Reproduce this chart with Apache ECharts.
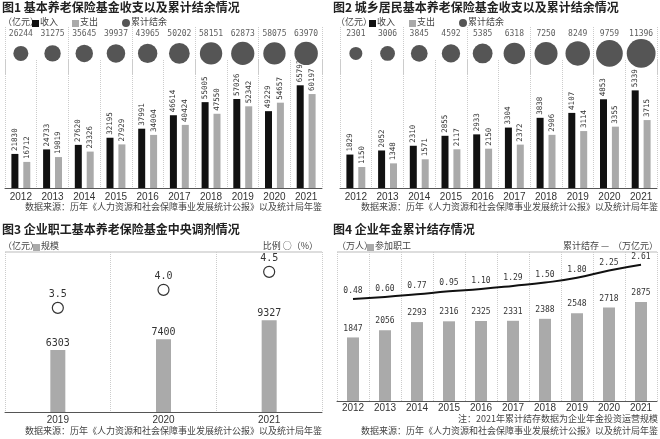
<!DOCTYPE html>
<html><head><meta charset="utf-8">
<script src="https://cdn.jsdelivr.net/npm/echarts@6/dist/echarts.min.js"></script>
<style>html,body{margin:0;padding:0;background:#fff}#c{width:660px;height:439px}</style>
</head><body><div id="c"></div>
<script>
const years = ['2012','2013','2014','2015','2016','2017','2018','2019','2020','2021'];
const f1Income = [21830,24733,27620,32195,37991,46614,55005,57026,49229,65793];
const f1Expense = [16712,19819,23326,27929,34004,40424,47550,52342,54657,60197];
const f1Balance = [26244,31275,35645,39937,43965,50202,58151,62873,58075,63970];
const f2Income = [1829,2052,2310,2855,2933,3304,3838,4107,4853,5339];
const f2Expense = [1150,1348,1571,2117,2150,2372,2906,3114,3355,3715];
const f2Balance = [2301,3006,3845,4592,5385,6318,7250,8249,9759,11396];
const f3Years = ['2019','2020','2021'];
const f3Scale = [6303,7400,9327];
const f3Ratio = [3.5,4.0,4.5];
const f4Workers = [1847,2056,2293,2316,2325,2331,2388,2548,2718,2875];
const f4Assets = [0.48,0.60,0.77,0.95,1.10,1.29,1.50,1.80,2.25,2.61];

const FONT = '"Noto Sans CJK SC", sans-serif';
const chart = echarts.init(document.getElementById('c'));
const splitDash = {show:true, lineStyle:{color:'#ccc', type:'dotted'}};
function catAxis(grid, data, show, split, margin){
  return {type:'category', gridIndex:grid, data:data, show:show,
    axisLine:{show:show, lineStyle:{color:'#555'}}, axisTick:{show:false},
    axisLabel:{show:show, color:'#333', fontSize:10, fontFamily:'Arial', margin:margin||4},
    splitLine: split ? splitDash : {show:false}};
}
function valAxis(grid, min, max){
  return {type:'value', gridIndex:grid, min:min, max:max, show:false, splitLine:{show:false}};
}
const rotLabel = {show:true, rotate:90, position:'top', align:'left', verticalAlign:'middle', distance:3, fontSize:7.5, color:'#333', fontFamily:'DejaVu Sans Mono'};

const grids = [
  {left:5, width:317, top:60, height:128},
  {left:5, width:317, top:27, height:48},
  {left:340, width:317, top:60, height:128},
  {left:340, width:317, top:27, height:48},
  {left:5, width:317, top:252, height:160},
  {left:337, width:320, top:252, height:149}
];
const xAxes = [
  catAxis(0, years, true, true), catAxis(1, years, false, false),
  catAxis(2, years, true, true), catAxis(3, years, false, false),
  catAxis(4, f3Years, true, true, 3), catAxis(5, years, true, true, 2)
];
xAxes[1].show=true; xAxes[1].axisLine={show:false}; xAxes[1].axisLabel={show:false}; xAxes[1].splitLine=splitDash;
xAxes[3].show=true; xAxes[3].axisLine={show:false}; xAxes[3].axisLabel={show:false}; xAxes[3].splitLine=splitDash;
const yAxes = [
  valAxis(0,0,82000), valAxis(1,-1,1), valAxis(2,0,7000), valAxis(3,-1,1),
  valAxis(4,0,16260), valAxis(4,0.61,5.05), valAxis(5,0,4330), valAxis(5,-5.9,3.41)
];
const topLbl = {show:true, position:'inside', formatter:p=>p.value[2], fontSize:8, color:'#333', fontFamily:'DejaVu Sans Mono'};
const series = [
  {type:'bar', xAxisIndex:0, yAxisIndex:0, data:f1Income, barWidth:7, barGap:'70%', itemStyle:{color:'#111'}, label:rotLabel},
  {type:'bar', xAxisIndex:0, yAxisIndex:0, data:f1Expense, barWidth:7, itemStyle:{color:'#aaa'}, label:rotLabel},
  {type:'scatter', xAxisIndex:1, yAxisIndex:1, data:f1Balance.map((v,i)=>[i,-0.1,v]),
    symbolSize:d=>0.0926*Math.sqrt(d[2]), itemStyle:{color:'#555', opacity:1}},
  {type:'scatter', xAxisIndex:1, yAxisIndex:1, data:f1Balance.map((v,i)=>[i,0.7,v]), symbolSize:0, label:topLbl},
  {type:'bar', xAxisIndex:2, yAxisIndex:2, data:f2Income, barWidth:7, barGap:'70%', itemStyle:{color:'#111'}, label:rotLabel},
  {type:'bar', xAxisIndex:2, yAxisIndex:2, data:f2Expense, barWidth:7, itemStyle:{color:'#aaa'}, label:rotLabel},
  {type:'scatter', xAxisIndex:3, yAxisIndex:3, data:f2Balance.map((v,i)=>[i,-0.1,v]),
    symbolSize:d=>0.27*Math.sqrt(d[2]), itemStyle:{color:'#555', opacity:1}},
  {type:'scatter', xAxisIndex:3, yAxisIndex:3, data:f2Balance.map((v,i)=>[i,0.7,v]), symbolSize:0, label:topLbl},
  {type:'bar', xAxisIndex:4, yAxisIndex:4, data:f3Scale, barWidth:15, itemStyle:{color:'#aaa'},
    label:{show:true, position:'top', distance:2, fontSize:10, color:'#333', fontFamily:'DejaVu Sans Mono'}},
  {type:'scatter', xAxisIndex:4, yAxisIndex:5, data:f3Ratio, symbol:'circle', symbolSize:11,
    itemStyle:{color:'#fff', borderColor:'#333', borderWidth:1.2, opacity:1},
    label:{show:true, position:'top', distance:2, formatter:p=>p.value.toFixed(1), fontSize:10, color:'#333', fontFamily:'DejaVu Sans Mono'}},
  {type:'bar', xAxisIndex:5, yAxisIndex:6, data:f4Workers, barWidth:12, itemStyle:{color:'#aaa'},
    label:{show:true, position:'top', distance:5, fontSize:8, color:'#333', fontFamily:'DejaVu Sans Mono'}},
  {type:'line', xAxisIndex:5, yAxisIndex:7, data:f4Assets, smooth:true, symbol:'circle', symbolSize:0.1,
    lineStyle:{color:'#111', width:2}, itemStyle:{color:'#111'},
    label:{show:true, position:'top', distance:4, formatter:p=>p.value.toFixed(2), fontSize:8, color:'#333', fontFamily:'DejaVu Sans Mono'}}
];

function t(x,y,txt){return {type:'text', left:x, top:y, style:{text:txt, fontSize:9, fill:'#444', fontFamily:FONT}};}
function tr(x,y,txt,size){return {type:'text', right:660-x, top:y, style:{text:txt, fontSize:size||9, fill:'#444', fontFamily:FONT}};}
function title(x,y,txt){return {type:'text', left:x, top:y, style:{text:txt, fontSize:12, fontWeight:'bold', fill:'#222', fontFamily:FONT}};}
function sq(x,y,c){return {type:'rect', left:x, top:y, shape:{width:7,height:7}, style:{fill:c}};}
const graphic = [
  title(2,1,'图1 基本养老保险基金收支以及累计结余情况'),
  t(3,17,'（亿元）'), sq(32,20,'#111'), t(40,17,'收入'), sq(72,20,'#aaa'), t(80,17,'支出'),
  {type:'circle', left:122, top:19, shape:{r:4}, style:{fill:'#555'}}, t(131,17,'累计结余'),
  tr(322,202,'数据来源：历年《人力资源和社会保障事业发展统计公报》以及统计局年鉴'),
  title(333,1,'图2 城乡居民基本养老保险基金收支以及累计结余情况'),
  t(336,17,'（亿元）'), sq(369,20,'#111'), t(377,17,'收入'), sq(409,20,'#aaa'), t(417,17,'支出'),
  {type:'circle', left:459, top:19, shape:{r:4}, style:{fill:'#555'}}, t(468,17,'累计结余'),
  tr(658,202,'数据来源：历年《人力资源和社会保障事业发展统计公报》以及统计局年鉴'),
  title(2,223,'图3 企业职工基本养老保险基金中央调剂情况'),
  t(3,241,'（亿元）'), sq(33,244,'#aaa'), t(41,241,'规模'),
  tr(318,241,'比例 ○（%）'),
  {type:'line', shape:{x1:5,y1:252,x2:322,y2:252}, style:{stroke:'#bbb', lineWidth:1}},
  tr(322,426,'数据来源：历年《人力资源和社会保障事业发展统计公报》以及统计局年鉴'),
  title(333,223,'图4 企业年金累计结存情况'),
  t(337,241,'（万人）'), sq(367,244,'#aaa'), t(375,241,'参加职工'),
  tr(658,241,'累计结存 —  （万亿元）'),
  {type:'line', shape:{x1:337,y1:252,x2:657,y2:252}, style:{stroke:'#bbb', lineWidth:1}},
  tr(658,414,'注：2021年累计结存数据为企业年金投资运营规模'),
  tr(658,426,'数据来源：历年《人力资源和社会保障事业发展统计公报》以及统计局年鉴')
];
chart.setOption({animation:false, grid:grids, xAxis:xAxes, yAxis:yAxes, series:series, graphic:graphic});
</script></body></html>
